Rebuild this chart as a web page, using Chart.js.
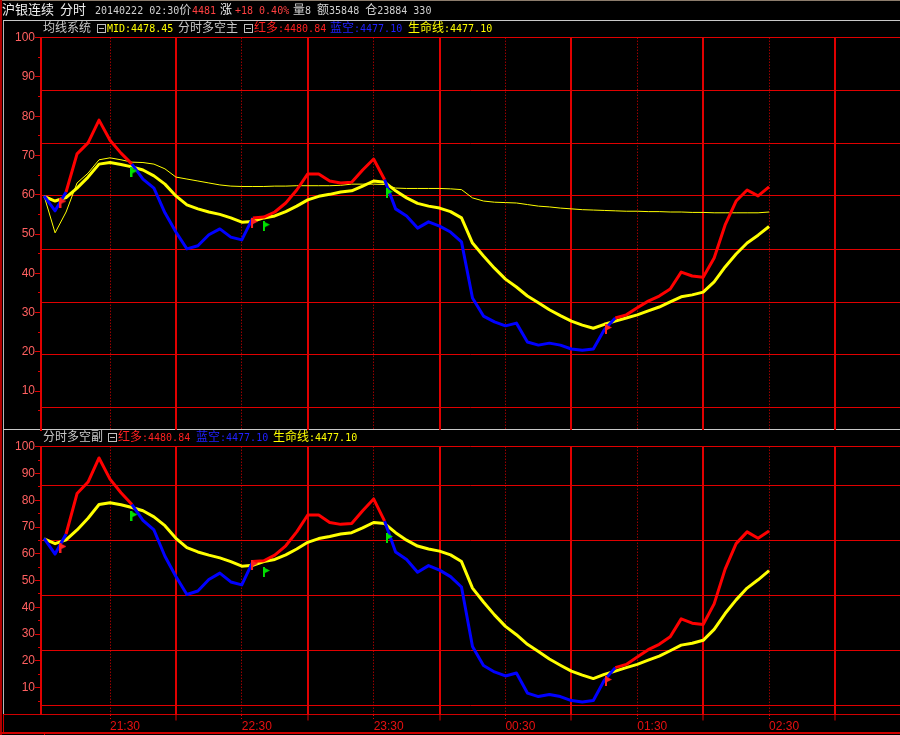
<!DOCTYPE html>
<html><head><meta charset="utf-8">
<script src="https://cdn.jsdelivr.net/npm/chart.js@4/dist/chart.umd.min.js"></script>
<style>
html,body{margin:0;padding:0;background:#000;width:900px;height:735px;overflow:hidden;}
#wrap{position:relative;width:900px;height:735px;background:#000;}
canvas{position:absolute;left:0;z-index:2;}
#c1{top:0;}
#c2{top:431px;}
.ln{position:absolute;z-index:1;}
.t{position:absolute;white-space:nowrap;line-height:14px;height:14px;z-index:3;}
.c{font-family:"Noto Sans CJK SC","Noto Sans CJK TC",sans-serif;font-size:12px;}
.c13{font-family:"Noto Sans CJK SC","Noto Sans CJK TC",sans-serif;font-size:13px;}
.a{font-family:"DejaVu Sans Mono","Liberation Mono",monospace;font-size:10px;}
.box{position:absolute;width:9px;height:9px;border:1px solid #c0c0c0;box-sizing:border-box;z-index:3;}
.box:after{content:'';position:absolute;left:1px;right:1px;top:3px;height:1px;background:#c0c0c0;}
</style>
</head>
<body>
<div id="wrap">
  <div class="ln" style="left:0;top:0;width:900px;height:1px;background:#8c7c6c"></div>
  <div class="ln" style="left:0;top:0;width:2px;height:735px;background:#b00000"></div>
  <div class="ln" style="left:3px;top:20px;width:1px;height:694px;background:#b8b8b8"></div>
  <div class="ln" style="left:3px;top:20px;width:897px;height:1px;background:#c8c8c8"></div>
  <div class="ln" style="left:3px;top:429px;width:897px;height:1px;background:#c8c8c8"></div>
  <div class="ln" style="left:3px;top:714px;width:897px;height:1px;background:#d00000"></div>
  <div class="ln" style="left:3px;top:714px;width:1px;height:20px;background:#d00000"></div>
  <div class="ln" style="left:0;top:732px;width:900px;height:2px;background:#d00000"></div>

  <canvas id="c1" width="900" height="431"></canvas>
  <canvas id="c2" width="900" height="304"></canvas>

  <div class="t" style="left:2px;top:2px;color:#f0f0f0"><span class="c13">沪银连续</span></div>
  <div class="t" style="left:60px;top:2px;color:#f0f0f0"><span class="c13">分时</span></div>
  <div class="t" style="left:95px;top:2px;color:#d0d0d0"><span class="a">20140222 02:30</span><span class="c">价</span></div>
  <div class="t" style="left:192px;top:2px;color:#ff4040"><span class="a">4481</span></div>
  <div class="t" style="left:220px;top:2px;color:#f0f0f0"><span class="c">涨</span></div>
  <div class="t" style="left:235px;top:2px;color:#ff4040"><span class="a">+18 0.40%</span></div>
  <div class="t" style="left:293px;top:2px;color:#d0d0d0"><span class="c">量</span><span class="a">8 </span><span class="c">额</span><span class="a">35848 </span><span class="c">仓</span><span class="a">23884 330</span></div>

  <div class="t" style="left:43px;top:20px;color:#c8c8c8"><span class="c">均线系统</span></div>
  <div class="box" style="left:97px;top:24px"></div>
  <div class="t" style="left:107px;top:20px;color:#ffff00"><span class="a">MID:4478.45</span></div>
  <div class="t" style="left:178px;top:20px;color:#c8c8c8"><span class="c">分时多空主</span></div>
  <div class="box" style="left:244px;top:24px"></div>
  <div class="t" style="left:254px;top:20px;color:#ff2020"><span class="c">红多</span><span class="a">:4480.84</span></div>
  <div class="t" style="left:330px;top:20px;color:#2020ff"><span class="c">蓝空</span><span class="a">:4477.10</span></div>
  <div class="t" style="left:408px;top:20px;color:#ffff00"><span class="c">生命线</span><span class="a">:4477.10</span></div>

  <div class="t" style="left:43px;top:429px;color:#c8c8c8"><span class="c">分时多空副</span></div>
  <div class="box" style="left:108px;top:433px"></div>
  <div class="t" style="left:118px;top:429px;color:#ff2020"><span class="c">红多</span><span class="a">:4480.84</span></div>
  <div class="t" style="left:196px;top:429px;color:#2020ff"><span class="c">蓝空</span><span class="a">:4477.10</span></div>
  <div class="t" style="left:273px;top:429px;color:#ffff00"><span class="c">生命线</span><span class="a">:4477.10</span></div>
</div>
<script>
// ---- data (minutes after 21:00) ----
const minutes = [0,5,10,15,20,25,30,35,40,45,50,55,60,65,70,75,80,85,90,95,100,105,110,115,120,125,130,135,140,145,150,155,160,165,170,175,180,185,190,195,200,205,210,215,220,225,230,235,240,245,250,255,260,265,270,275,280,285,290,295,300,305,310,315,320,325,330];

const sessionStartTick = [0];
const hourTicks = [60,120,180,240,300,360];
const halfHourTicks = [30,90,150,210,270,330];
const timeLabels = ['21:30','22:30','23:30','00:30','01:30','02:30'];
const majorYTicks = [10,20,30,40,50,60,70,80,90,100];
const minorYTicks = [5,15,25,35,45,55,65,75,85,95];
const topGridLevels = [5.9,19.4,32.6,46.1,59.7,73.1,86.6,100];
const bottomGridLevels = [3.4,24.0,44.6,65.1,85.6,100];

// top panel: 均线系统 MID / 分时多空主
const topMid = [59.7,50.3,55.6,63.0,65.5,68.9,69.4,68.9,68.3,68.2,67.8,66.6,64.5,64.0,63.5,63.0,62.5,62.2,62.1,62.1,62.1,62.2,62.2,62.3,62.3,62.3,62.3,62.4,62.7,62.7,62.7,62.6,61.7,61.6,61.6,61.6,61.6,61.5,61.3,59.2,58.4,58.1,58.0,57.9,57.5,57.1,56.9,56.6,56.4,56.2,56.1,56.0,55.9,55.8,55.8,55.7,55.7,55.6,55.6,55.5,55.5,55.4,55.4,55.4,55.4,55.4,55.6];
const topDuoKong = [59.7,55.9,60.7,70.4,73.2,79.0,73.9,70.6,67.8,64.0,61.7,55.4,50.5,46.2,47.0,49.8,51.3,49.2,48.5,54.1,54.3,55.6,57.9,61.2,65.3,65.3,63.5,63.0,63.2,66.3,69.1,63.8,56.4,54.6,51.5,53.1,52.0,50.5,48.0,33.7,29.1,27.6,26.6,27.3,22.5,21.7,22.2,21.7,20.7,20.4,20.7,25.6,28.6,29.4,31.2,32.9,34.2,36.0,40.3,39.3,39.0,43.9,52.3,58.4,61.2,59.7,62.0];
const topLife = [59.55,58.4,59.3,61.7,64.5,67.8,68.2,67.7,67.1,66.3,64.8,62.7,59.7,57.4,56.4,55.6,55.0,54.1,53.0,53.2,54.1,54.6,55.7,57.1,58.7,59.6,60.1,60.7,61.0,62.2,63.5,63.2,61.0,59.2,57.8,57.1,56.6,55.7,54.1,47.7,44.4,41.3,38.5,36.5,34.2,32.5,30.7,29.2,27.8,26.8,26.0,27.0,27.8,28.6,29.4,30.4,31.4,32.7,34.0,34.5,35.2,37.8,41.6,44.9,47.7,49.7,51.9];

// bottom panel: 分时多空副
const botDuoKong = [65.8,59.9,67.4,82.5,86.8,95.8,87.9,82.8,78.4,72.5,68.9,59.1,51.5,44.8,46.1,50.4,52.8,49.5,48.4,57.1,57.4,59.5,63.0,68.2,74.5,74.5,71.7,71.0,71.3,76.1,80.5,72.2,60.7,57.9,53.1,55.6,53.9,51.5,47.6,25.4,18.3,15.9,14.4,15.5,8.0,6.7,7.5,6.7,5.2,4.7,5.2,12.8,17.5,18.7,21.5,24.2,26.2,29.0,35.7,34.1,33.6,41.3,54.3,63.8,68.2,65.8,68.5];
const botLife = [65.6,63.8,65.2,68.9,73.3,78.4,79.1,78.3,77.3,76.1,73.8,70.5,65.8,62.3,60.7,59.5,58.5,57.1,55.4,55.7,57.1,57.9,59.6,61.8,64.3,65.7,66.5,67.4,67.9,69.7,71.7,71.3,67.9,65.1,62.9,61.8,61.0,59.6,57.1,47.2,42.0,37.2,32.9,29.8,26.2,23.5,20.7,18.4,16.2,14.7,13.4,15.0,16.2,17.5,18.7,20.3,21.8,23.8,25.9,26.6,27.7,31.8,37.7,42.8,47.2,50.3,53.7];

// crossing flags
const flagTimes = [8.6,40.9,95.8,101.2,157.2,256.9];
const flagKinds = ['up','down','up','down','down','up'];
const flagTopValues = [58.0,65.7,52.8,52.0,60.4,25.8];
const flagBottomValues = [62.2,74.1,55.8,53.2,65.9,12.5];

// ---- styles ----
const RED = '#ff0000', BLUE = '#0000ff', YEL = '#ffff00';
const GRID = '#e00000', LABEL = '#ff6060', XLABEL = '#e81010';
const X_MIN = -1.41, X_MAX = 389.6;

Chart.defaults.font.family = '"Liberation Sans", Arial, sans-serif';
Chart.defaults.font.size = 11;

function makeFlag(color){
  const c = document.createElement('canvas');
  c.width = 7; c.height = 10;
  const g = c.getContext('2d');
  g.fillStyle = color;
  g.fillRect(0,0,2,10);
  g.beginPath(); g.moveTo(0,0); g.lineTo(7,3.5); g.lineTo(0,7); g.closePath(); g.fill();
  return c;
}
const flagUp = makeFlag('#ff2020');
const flagDown = makeFlag('#00e000');

function series(values){ return minutes.map((m,i)=>({x:m, y:values[i]})); }
function segColor(dk, life){
  return ctx => {
    const i = ctx.p0DataIndex, j = ctx.p1DataIndex;
    const d = (dk[i]-life[i]) + (dk[j]-life[j]);
    return d >= 0 ? RED : BLUE;
  };
}
function zeroPad(s){ s.paddingTop=0; s.paddingBottom=0; s.paddingLeft=0; s.paddingRight=0; }

function buildChart(id, o){
  const datasets = [
    { label:'flags', data: flagTimes.map((t,i)=>({x:t,y:o.flags[i]})), showLine:false,
      pointStyle: c => flagKinds[c.dataIndex]==='up' ? flagUp : flagDown,
      pointRadius:4, pointHoverRadius:4, borderWidth:0, xAxisID:'x', yAxisID:'yl' },
    { label:'红多蓝空', data: series(o.dk), borderColor: RED, borderWidth:3, pointRadius:0, tension:0,
      borderJoinStyle:'round', segment:{ borderColor: segColor(o.dk, o.life) }, xAxisID:'x', yAxisID:'yl' },
    { label:'生命线', data: series(o.life), borderColor: YEL, borderWidth:3, pointRadius:0, tension:0,
      borderJoinStyle:'round', xAxisID:'x', yAxisID:'yl' }
  ];
  if (o.mid) datasets.push({ label:'MID', data: series(o.mid), borderColor: YEL, borderWidth:1, pointRadius:0, tension:0, xAxisID:'x', yAxisID:'yl' });

  const bottom = o.bottom;
  const scales = {
    x:{ type:'linear', position:'bottom', min:X_MIN, max:X_MAX, weight:0,
        afterBuildTicks: s => { s.ticks = hourTicks.map(v=>({value:v})); },
        ticks:{ display:false },
        grid:{ color: GRID, tickColor: GRID, drawTicks: bottom, tickLength:6, lineWidth:2, tickWidth:1 },
        border:{ display:false },
        afterFit: s => { s.height = 0; zeroPad(s); } },
    xh:{ type:'linear', position:'bottom', min:X_MIN, max:X_MAX, weight:1,
        afterBuildTicks: s => { s.ticks = halfHourTicks.map(v=>({value:v})); },
        ticks:{ display: bottom, color: XLABEL, font:{size:12}, align:'start', padding:-1.5,
                autoSkip:false, maxRotation:0, minRotation:0,
                callback: (v) => timeLabels[halfHourTicks.indexOf(v)] },
        grid:{ color: GRID, tickColor: GRID, drawTicks: bottom, tickLength:6, tickBorderDash:[1,2], lineWidth:1 },
        border:{ display:false, dash:[1,2] },
        afterFit: s => { s.height = bottom ? 18 : 0; zeroPad(s); } },
    yl:{ position:'left', weight:2, min:0, max:100,
        afterBuildTicks: s => { s.ticks = majorYTicks.map(v=>({value:v})); },
        ticks:{ color: LABEL, font:{size:12}, padding:0, autoSkip:false, callback: v => String(v) },
        grid:{ drawOnChartArea:false, drawTicks:true, tickLength:6, tickColor:GRID, color:GRID },
        border:{ display:true, color:GRID, width:2 },
        afterFit: s => { s.width = 41; zeroPad(s); } },
    ym:{ position:'left', weight:1, min:0, max:100,
        afterBuildTicks: s => { s.ticks = minorYTicks.map(v=>({value:v})); },
        ticks:{ display:false },
        grid:{ drawOnChartArea:false, drawTicks:true, tickLength:3, tickColor:GRID, color:GRID },
        border:{ display:false },
        afterFit: s => { s.width = 0; zeroPad(s); } },
    yg:{ position:'right', min:0, max:100,
        afterBuildTicks: s => { s.ticks = o.grid.map(v=>({value:v})); },
        ticks:{ display:false },
        grid:{ drawOnChartArea:true, drawTicks:false, color:GRID, lineWidth:1 },
        border:{ display:false },
        afterFit: s => { s.width = 0; zeroPad(s); } }
  };
  if (bottom) {
    scales.x0 = { type:'linear', position:'bottom', min:X_MIN, max:X_MAX, weight:2,
        afterBuildTicks: s => { s.ticks = sessionStartTick.map(v=>({value:v})); },
        ticks:{ display:false },
        grid:{ drawOnChartArea:false, drawTicks:true, tickLength:6, tickColor:GRID, color:GRID },
        border:{ display:false },
        afterFit: s => { s.height = 0; zeroPad(s); } };
  }
  return new Chart(document.getElementById(id), {
    type:'line',
    data:{ datasets },
    options:{
      responsive:false, animation:false, devicePixelRatio:1, events:[],
      layout:{ autoPadding:false, padding:{ top:o.padTop, bottom:o.padBottom, left:0, right:0 } },
      plugins:{ legend:{display:false}, tooltip:{enabled:false} },
      scales
    }
  });
}

buildChart('c1', { dk: topDuoKong, life: topLife, mid: topMid, flags: flagTopValues, grid: topGridLevels,
                   padTop: 37.7, padBottom: 0.7, bottom: false });
buildChart('c2', { dk: botDuoKong, life: botLife, mid: null, flags: flagBottomValues, grid: bottomGridLevels,
                   padTop: 15.7, padBottom: 2.5, bottom: true });
</script>
</body></html>
